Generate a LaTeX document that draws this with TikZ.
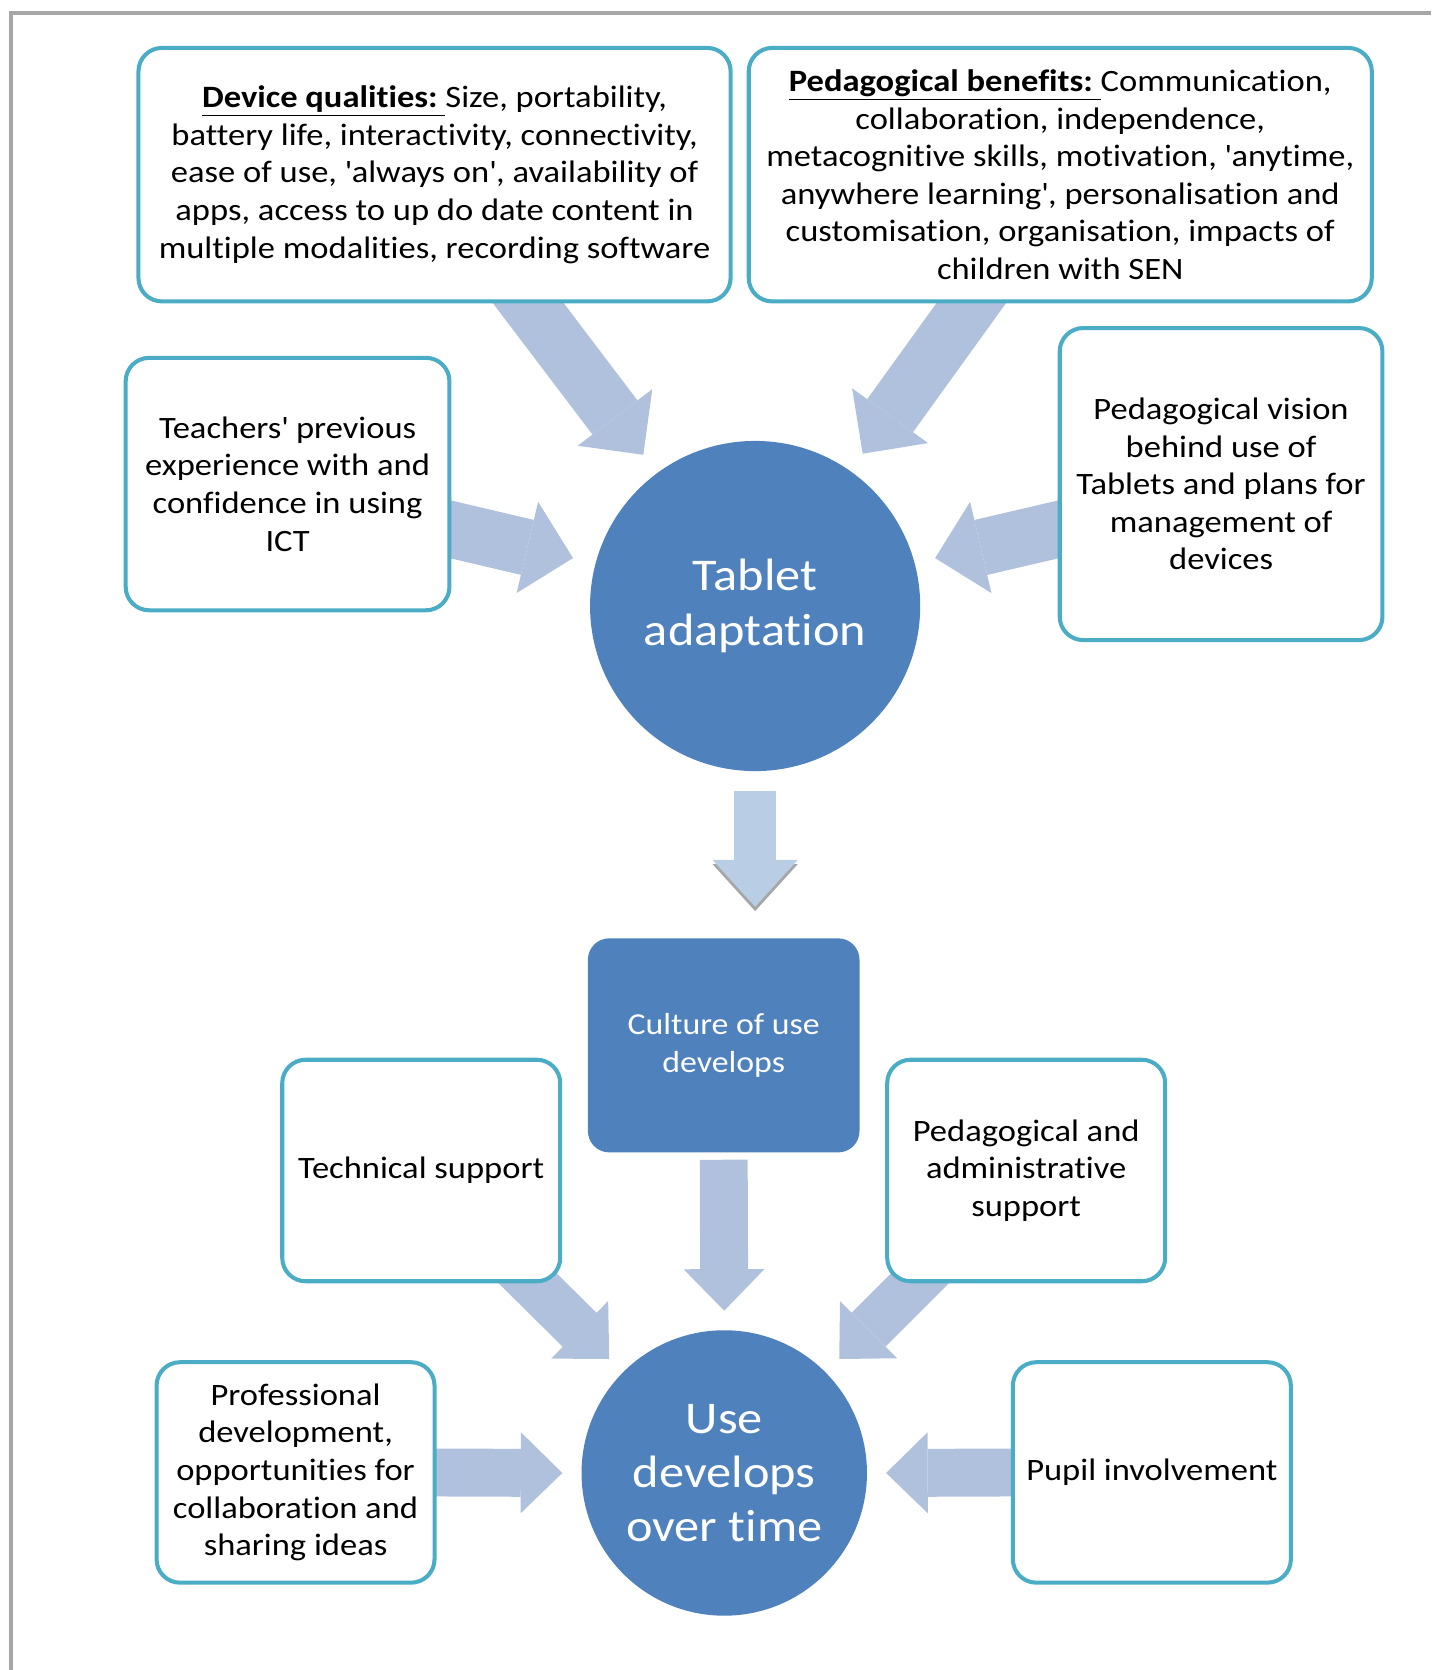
\documentclass[tikz,border=0pt]{standalone}
\usepackage{fontspec}
\setmainfont{Carlito}[FakeStretch=1.11,Ligatures=NoCommon]
\usetikzlibrary{arrows.meta,calc,backgrounds}
\definecolor{boxline}{RGB}{75,172,198}
\definecolor{discblue}{RGB}{79,129,189}
\definecolor{arrowblue}{RGB}{176,193,221}
\definecolor{downblue}{RGB}{185,205,229}
\definecolor{framegray}{RGB}{166,166,166}
\newcommand{\sq}{\textquotesingle}
\newXeTeXintercharclass\tchar
\newXeTeXintercharclass\ichar
\XeTeXcharclass`t=\tchar
\XeTeXcharclass`i=\ichar
\XeTeXinterchartoks\tchar\ichar={\kern0pt }
\begin{document}
\XeTeXinterchartokenstate=1
\begin{tikzpicture}[x=0.5pt,y=0.5pt,yscale=-1,
  box/.style={draw=boxline,line width=1.9pt,fill=white,rounded corners=11pt,align=center,inner sep=0pt,font=\fontsize{14.6pt}{17.65pt}\selectfont},
  disc/.style={circle,fill=discblue,text=white,align=center,inner sep=0pt,font=\fontsize{21.3pt}{25.5pt}\selectfont},
  bigarrow/.style={draw=arrowblue,line width=26.5pt,-{Triangle[length=22pt,width=44pt,line width=0pt]}},
  smallarrow/.style={draw=arrowblue,line width=22.5pt,-{Triangle[length=19.5pt,width=38pt,line width=0pt]}},
  downarrow/.style={draw=downblue,line width=20pt,-{Triangle[length=22pt,width=40pt,line width=0pt]}}]
\useasboundingbox (0,0) rectangle (1344,1568);
\draw [framegray,line width=2pt] (10,1568) -- (10,12) -- (1344,12);
\node [box,minimum width=278pt,minimum height=119pt] (device) at (408,164) {\underline{\textbf{Device qualities:}\ }Size, portability,\\ battery life, interactivity, connectivity,\\ ease of use, \sq always on\sq, availability of\\ apps, access to up do date content in\\ multiple modalities, recording software};
\node [box,minimum width=292.5pt,minimum height=119pt] (benefits) at (995.5,164) {\underline{\textbf{Pedagogical benefits:}\ }Communication,\\ collaboration, independence,\\ metacognitive skills, motivation, \sq anytime,\\ anywhere learning\sq, personalisation and\\ customisation, organisation, impacts of\\ children with SEN};
\node [box,minimum width=152pt,minimum height=118.5pt] (teachers) at (270,454.5) {Teachers\sq\ previous\\ experience with and\\ confidence in using\\ ICT};
\node [box,minimum width=151.5pt,minimum height=146.5pt] (vision) at (1146.5,454.5) {Pedagogical vision\\ behind use of\\ Tablets and plans for\\ management of\\ devices};
\node [disc,minimum size=155pt] (tablet) at (709,569) {Tablet\\ adaptation};
\node [box,draw=none,fill=discblue,text=white,rounded corners=10pt,minimum width=127.5pt,minimum height=100.5pt,font=\fontsize{14.3pt}{17.5pt}\selectfont] (culture) at (679.5,981.5) {Culture of use\\ develops};
\node [box,minimum width=130.5pt,minimum height=104pt] (technical) at (395.5,1099) {Technical support};
\node [box,minimum width=130.5pt,minimum height=104pt] (admin) at (963.5,1099) {Pedagogical and\\ administrative\\ support};
\node [disc,minimum size=134pt] (use) at (680,1383) {Use\\ develops\\ over time};
\node [box,minimum width=130.5pt,minimum height=103.5pt] (professional) at (277.5,1382.5) {Professional\\ development,\\ opportunities for\\ collaboration and\\ sharing ideas};
\node [box,minimum width=130.5pt,minimum height=103.5pt] (pupil) at (1081.5,1382.5) {Pupil involvement};
\begin{scope}[on background layer]
\draw [bigarrow] ($(device.south)+(70,-24)$) -- ($(tablet)+(-105,-142)$);
\draw [bigarrow] ($(benefits.south)+(-66.5,-24)$) -- ($(tablet)+(101,-143)$);
\draw [bigarrow] ($(teachers.east)+(-20,38)$) -- ($(tablet)+(-171,-45)$);
\draw [bigarrow] ($(vision.west)+(20,38)$) -- ($(tablet)+(169,-45)$);
\draw [downarrow,draw=gray!70] ($(tablet.south)+(0,22)$) -- ($(tablet.south)+(0,131)$);
\draw [downarrow] ($(tablet.south)+(0,18)$) -- ($(tablet.south)+(0,127)$);
\draw [smallarrow] ($(culture.south)+(0,5)$) -- ($(use.north)+(0,-18)$);
\draw [smallarrow] ($(technical.south east)+(-48,-20)$) -- ($(use)+(-108,-107)$);
\draw [smallarrow] ($(admin.south west)+(48,-20)$) -- ($(use)+(108,-107)$);
\draw [smallarrow] ($(professional.east)+(-10,0)$) -- ($(use)+(-152,0)$);
\draw [smallarrow] ($(pupil.west)+(10,0)$) -- ($(use)+(152,0)$);
\end{scope}
\end{tikzpicture}
\end{document}
